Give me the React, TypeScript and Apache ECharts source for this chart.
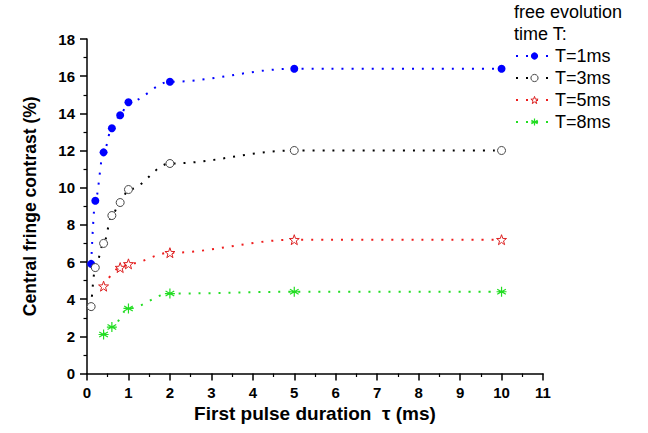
import React, { useEffect, useRef } from "react";
import * as echarts from "echarts";

const tauT1 = [0.1, 0.2, 0.4, 0.6, 0.8, 1, 2, 5, 10];
const valT1 = [5.9, 9.3, 11.9, 13.2, 13.9, 14.6, 15.7, 16.4, 16.4];
const tauT3 = [0.1, 0.2, 0.4, 0.6, 0.8, 1, 2, 5, 10];
const valT3 = [3.6, 5.7, 7.0, 8.5, 9.2, 9.9, 11.3, 12.0, 12.0];
const tauT5 = [0.4, 0.8, 1, 2, 5, 10];
const valT5 = [4.7, 5.7, 5.9, 6.5, 7.2, 7.2];
const tauT8 = [0.4, 0.6, 1, 2, 5, 10];
const valT8 = [2.1, 2.5, 3.5, 4.3, 4.4, 4.4];
const seriesNames = ["T=1ms", "T=3ms", "T=5ms", "T=8ms"];
const legendTitle = "free evolution\ntime T:";
const xName = "First pulse duration  τ (ms)";
const yName = "Central fringe contrast (%)";

const FONT = "Arial, 'Liberation Sans', sans-serif";
const asterisk =
  "path://M5,0 L5,10 M0.67,2.5 L9.33,7.5 M0.67,7.5 L9.33,2.5 M0,5 L10,5";
const star =
  "path://M5,0 L6.18,3.38 L9.76,3.45 L6.9,5.62 L7.94,9.05 L5,7 L2.06,9.05 L3.1,5.62 L0.24,3.45 L3.82,3.38 Z";

const pair = (xs: number[], ys: number[]) => xs.map((x, i) => [x, ys[i]]);

export default function App() {
  const ref = useRef<HTMLDivElement>(null);
  useEffect(() => {
    document.body.style.margin = "0";
    const chart = echarts.init(ref.current!, null, { renderer: "svg" });
    const lineBase = (color: string) => ({
      type: "line" as const,
      smooth: 0.35,
      smoothMonotone: "x" as const,
      lineStyle: { color, width: 2, type: [2, 8] as any },
    });
    const axisCommon = {
      type: "value" as const,
      nameLocation: "middle" as const,
      axisLine: { show: true, lineStyle: { color: "#000", width: 1.5 } },
      axisTick: { show: true, length: 7, lineStyle: { color: "#000", width: 1.5 } },
      minorTick: { show: true, splitNumber: 2, length: 3.5, lineStyle: { color: "#000", width: 1.2 } },
      splitLine: { show: false },
    };
    const styles = [
      { color: "#0000ff" },
      { color: "#ffffff", borderColor: "#444444", borderWidth: 1 },
      { color: "#ffffff", borderColor: "#dd2222", borderWidth: 1 },
      { color: "#22dd22", borderColor: "#22dd22", borderWidth: 1.2 },
    ];
    chart.setOption({
      animation: false,
      backgroundColor: "#ffffff",
      title: {
        text: legendTitle,
        left: 509,
        top: -4,
        textStyle: {
          fontFamily: FONT,
          fontSize: 18,
          fontWeight: "normal",
          lineHeight: 22,
          color: "#000",
        },
      },
      legend: {
        orient: "vertical",
        left: 510,
        top: 42,
        itemWidth: 37,
        itemHeight: 9,
        itemGap: 4,
        textStyle: { fontFamily: FONT, fontSize: 18, color: "#000", padding: [0, 0, 0, -3] },
        data: seriesNames.map((name, i) => ({ name, itemStyle: styles[i] })),
      },
      grid: { left: 87, right: 105, top: 39, bottom: 59.5 },
      xAxis: {
        ...axisCommon,
        min: 0,
        max: 11,
        interval: 1,
        name: xName,
        nameGap: 30,
        nameTextStyle: { fontFamily: FONT, fontSize: 19, fontWeight: "bold", color: "#000" },
        axisLabel: { fontFamily: FONT, fontSize: 15, fontWeight: "bold", color: "#000", margin: 11 },
      },
      yAxis: {
        ...axisCommon,
        min: 0,
        max: 18,
        interval: 2,
        name: yName,
        nameGap: 48,
        nameTextStyle: { fontFamily: FONT, fontSize: 17.5, fontWeight: "bold", color: "#000" },
        axisLabel: { fontFamily: FONT, fontSize: 15, fontWeight: "bold", color: "#000", margin: 12 },
      },
      series: [
        {
          ...lineBase("#0000ff"),
          name: seriesNames[0],
          data: pair(tauT1, valT1),
          symbol: "circle",
          symbolSize: 8,
          itemStyle: styles[0],
        },
        {
          ...lineBase("#000000"),
          name: seriesNames[1],
          data: pair(tauT3, valT3),
          symbol: "circle",
          symbolSize: 8,
          itemStyle: styles[1],
        },
        {
          ...lineBase("#ee1c1c"),
          name: seriesNames[2],
          data: pair(tauT5, valT5),
          symbol: star,
          symbolSize: 10,
          itemStyle: styles[2],
        },
        {
          ...lineBase("#22dd22"),
          name: seriesNames[3],
          data: pair(tauT8, valT8),
          symbol: asterisk,
          symbolSize: 10,
          itemStyle: styles[3],
        },
      ],
    });
    return () => chart.dispose();
  }, []);
  return <div ref={ref} style={{ width: 648, height: 433 }} />;
}
